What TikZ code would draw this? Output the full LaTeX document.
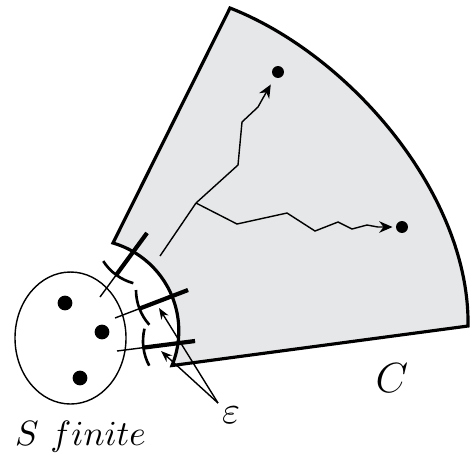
\documentclass[tikz,border=0pt]{standalone}
\usepackage{amsmath}
\usepackage{amssymb}
\usepackage{xcolor}
\usetikzlibrary{arrows.meta,calc,shapes.geometric}
\usetikzlibrary{positioning}

\definecolor{sectorgray}{RGB}{230,231,232}

\begin{document}
\begin{tikzpicture}[
    thinline/.style={line width=0.4pt},
    border/.style={line width=0.9pt,fill=sectorgray,line join=miter},
    bar/.style={line width=1.2pt},
    ball/.style={line width=0.75pt},
    dot/.style={circle,fill=black,inner sep=0pt,minimum size=3.4pt},
    bigdot/.style={dot,minimum size=4.2pt},
    tip/.style={-{Stealth[length=3.8pt,width=3.3pt]}},
    smalltip/.style={-{Stealth[length=3.2pt,width=2.4pt]}}]
\useasboundingbox (0,0) rectangle (4.74,4.52);

\def\rad{0.52}

% the set C
\coordinate (cA) at (2.30,4.44);
\coordinate (cB) at (1.13,2.09);
\coordinate (cE) at (4.68,1.26);
\draw[border] (cA) -- (cB) arc[start angle=73.7,end angle=-22.3,radius=0.915]
    -- (cE) .. controls (4.70,2.57) and (3.50,3.97) .. (cA) -- cycle;

% the set S
\node[draw,thinline,ellipse,minimum width=1.11cm,minimum height=1.32cm,inner sep=0pt] (set) at (0.705,1.14) {};
\node[bigdot] (s1) at (0.65,1.49) {};
\node[bigdot] (s2) at (1.02,1.20) {};
\node[bigdot] (s3) at (0.80,0.74) {};

% targets in C
\node[dot] (x1) at (2.78,3.80) {};
\node[dot] (x2) at (4.02,2.25) {};

% paths
\coordinate (start) at (1.60,1.96);
\coordinate (root) at (1.96,2.49);
\draw[thinline] (start) -- (root);
\draw[thinline,tip,shorten >=2.2pt] (root) -- (2.38,2.87) -- (2.42,3.30) -- (2.58,3.45) -- (2.63,3.54) -- (x1);
\draw[thinline,tip,shorten >=0.8pt] (root) -- (2.37,2.28) -- (2.87,2.39) -- (3.15,2.21) -- (3.38,2.30)
    -- (3.52,2.23) -- (3.67,2.27) -- (3.78,2.25) -- (x2);

% epsilon balls
\foreach \cx/\cy/\sx/\sy/\ang [count=\i] in {1.47/2.19/1.00/1.55/233.7, 1.88/1.62/1.15/1.34/201, 1.95/1.11/1.17/1.01/187.3}
{
    \coordinate (p\i) at (\cx,\cy);
    \coordinate (q\i) at (\sx,\sy);
    \draw[thinline] (q\i) -- (p\i);
    \draw[bar] (p\i) -- ($(p\i)!\rad cm!(q\i)$);
    \draw[ball] (p\i) ++(\ang-21:\rad) arc[start angle=\ang-21,end angle=\ang+21,radius=\rad];
}

% labels
\node[anchor=base,font=\fontsize{10}{12}\selectfont] (sname) at (0.805,0.07) {$S\ finite$};
\node[anchor=base,font=\fontsize{13}{15}\selectfont] (cname) at (3.92,0.60) {$C$};
\node[anchor=base,font=\fontsize{11}{13}\selectfont] (eps) at (2.31,0.29) {$\varepsilon$};

\coordinate (epsfoot) at (2.18,0.49);
\coordinate (e1) at (1.59,1.44);
\coordinate (e2) at (1.61,1.01);
\draw[thinline,smalltip] (epsfoot) -- (e1);
\draw[thinline,smalltip] (epsfoot) -- (e2);
\end{tikzpicture}
\end{document}
